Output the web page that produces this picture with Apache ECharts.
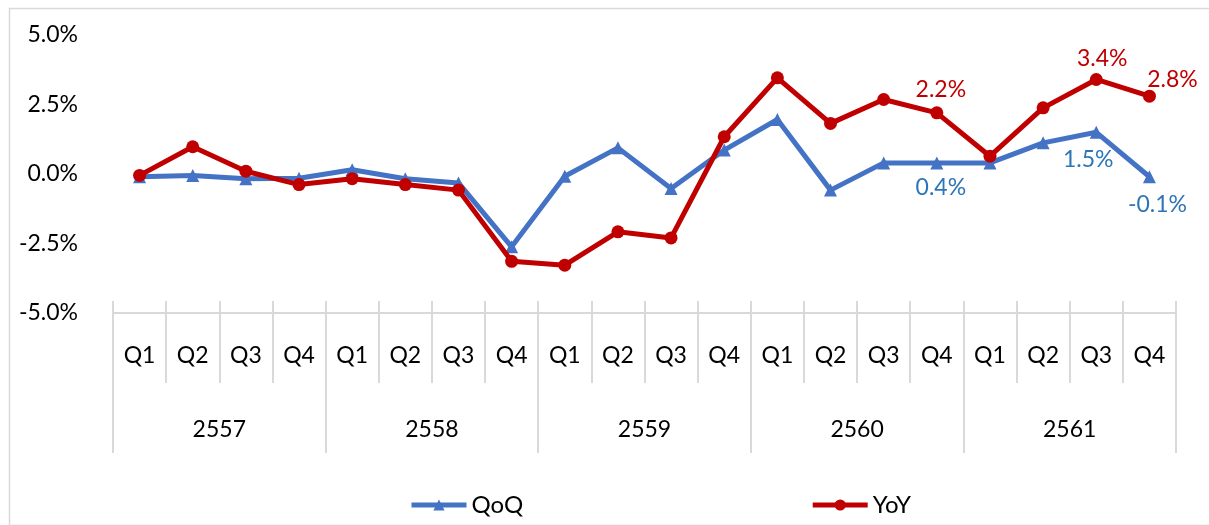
<!DOCTYPE html>
<html>
<head>
<meta charset="utf-8">
<script src="https://cdn.jsdelivr.net/npm/echarts@6/dist/echarts.min.js"></script>
<style>
html,body{margin:0;padding:0;background:#fff;}
#chart{width:1209px;height:525px;}
</style>
</head>
<body>
<div id="chart"></div>
<script>
// ---- data ----
var quarters = ['Q1','Q2','Q3','Q4','Q1','Q2','Q3','Q4','Q1','Q2','Q3','Q4','Q1','Q2','Q3','Q4','Q1','Q2','Q3','Q4'];
var years = ['2557','2558','2559','2560','2561'];
var qoq = [-0.1, -0.05, -0.17, -0.15, 0.15, -0.17, -0.32, -2.62, -0.08, 0.94, -0.52, 0.86, 1.96, -0.58, 0.4, 0.4, 0.4, 1.12, 1.5, -0.1];
var yoy = [-0.05, 0.98, 0.1, -0.38, -0.17, -0.38, -0.58, -3.14, -3.28, -2.08, -2.3, 1.34, 3.46, 1.82, 2.68, 2.2, 0.64, 2.38, 3.4, 2.8];
var yTicks = {min: -5, max: 5, interval: 2.5};
var qoqLabeled = [15, 18, 19];
var yoyLabeled = [15, 18, 19];

// ---- styles ----
var FONT = 'Lato';
var FS = 23;
var BLUE = '#4472C4', RED = '#C00000', BLUE_LBL = '#2E75B6';
var qoqLabelOffsets = {15: [4, 1], 18: [-8, 3], 19: [8, 4]};
var yoyLabelOffsets = {15: [4, 1], 18: [6, 3], 19: [23, 7]};

function build(vals, labeled, offsets, pos, color) {
  return vals.map(function (v, i) {
    var item = {value: v};
    if (labeled.indexOf(i) >= 0) {
      item.label = {
        show: true, position: pos, distance: 6, offset: offsets[i],
        color: color, fontFamily: FONT, fontSize: FS,
        formatter: function (p) { return p.value.toFixed(1) + '%'; }
      };
    }
    return item;
  });
}

var chart = echarts.init(document.getElementById('chart'));
var gridLeft = 113, gridRight = 33, gridTop = 35, gridBottom = 212;
var tickColor = '#d9d9d9';
chart.setOption({
  animation: false,
  backgroundColor: '#fff',
  graphic: [{
    type: 'rect', left: 7, top: 6, silent: true,
    shape: {width: 1201, height: 517},
    style: {fill: 'none', stroke: '#d9d9d9', lineWidth: 1.5}
  }],
  grid: {left: gridLeft, right: gridRight, top: gridTop, bottom: gridBottom, containLabel: false},
  legend: {
    left: 409, top: 493, padding: 0, itemGap: 287, itemWidth: 55, itemHeight: 14,
    textStyle: {fontFamily: FONT, fontSize: 24, color: '#000'},
    data: [
      {name: 'QoQ', lineStyle: {width: 5, color: BLUE}, itemStyle: {color: BLUE}},
      {name: 'YoY', lineStyle: {width: 5, color: RED}, itemStyle: {color: RED}}
    ]
  },
  xAxis: [{
    type: 'category', data: quarters, boundaryGap: true, position: 'bottom',
    axisLine: {show: true, onZero: false, lineStyle: {color: tickColor, width: 2}},
    axisTick: {show: true, interval: 0, length: 70, lineStyle: {color: tickColor, width: 2}},
    axisLabel: {interval: 0, margin: 31, color: '#000', fontFamily: FONT, fontSize: FS}
  }, {
    type: 'category', data: years, boundaryGap: true, position: 'bottom',
    axisLine: {show: false, onZero: false},
    axisTick: {show: true, interval: 0, length: 140, lineStyle: {color: tickColor, width: 2}},
    axisLabel: {interval: 0, margin: 105, color: '#000', fontFamily: FONT, fontSize: FS}
  }, {
    type: 'category', data: quarters, boundaryGap: true, position: 'bottom',
    axisLine: {show: false, onZero: false},
    axisTick: {show: true, inside: true, interval: 0, length: 12, lineStyle: {color: tickColor, width: 2}},
    axisLabel: {show: false}
  }],
  yAxis: {
    type: 'value', min: yTicks.min, max: yTicks.max, interval: yTicks.interval,
    axisLine: {show: false}, axisTick: {show: false}, splitLine: {show: false},
    axisLabel: {
      margin: 35, color: '#000', fontFamily: FONT, fontSize: FS, padding: [0, 0, 5, 0],
      formatter: function (v) { return v.toFixed(1) + '%'; }
    }
  },
  series: [{
    name: 'QoQ', type: 'line', xAxisIndex: 0,
    data: build(qoq, qoqLabeled, qoqLabelOffsets, 'bottom', BLUE_LBL),
    symbol: 'triangle', symbolSize: 13,
    lineStyle: {color: BLUE, width: 5},
    itemStyle: {color: BLUE},
    z: 2
  }, {
    name: 'YoY', type: 'line', xAxisIndex: 0,
    data: build(yoy, yoyLabeled, yoyLabelOffsets, 'top', RED),
    symbol: 'circle', symbolSize: 13,
    lineStyle: {color: RED, width: 5},
    itemStyle: {color: RED},
    z: 3
  }]
});
</script>
</body>
</html>
